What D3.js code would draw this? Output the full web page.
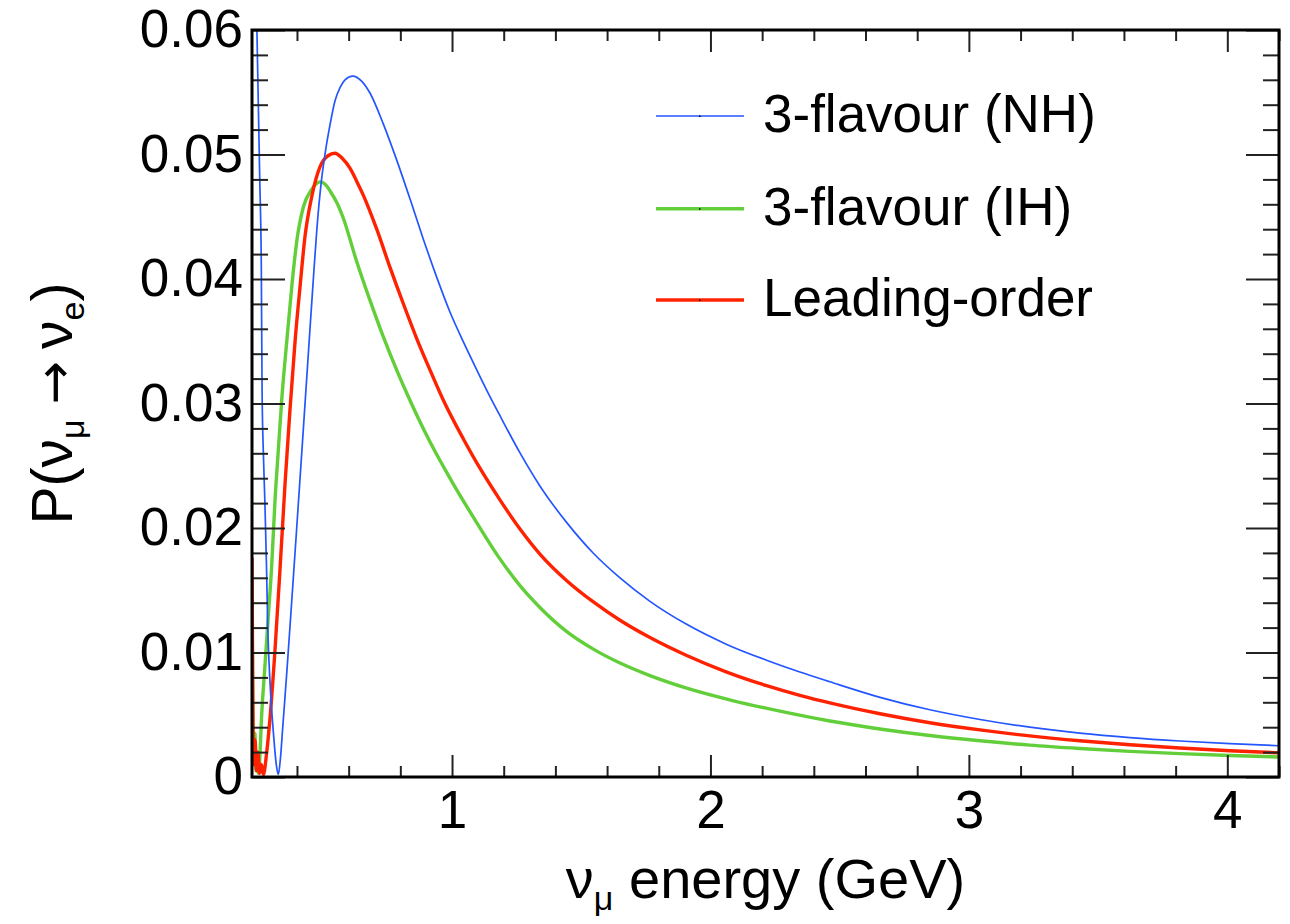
<!DOCTYPE html>
<html>
<head>
<meta charset="utf-8">
<script src="https://cdn.jsdelivr.net/npm/d3@7"></script>
<style>
  html, body { margin: 0; padding: 0; background: #fff; }
  svg { display: block; font-family: "Liberation Sans", Arial, sans-serif; }
</style>
</head>
<body>
<svg id="chart" width="1290" height="924"></svg>
<script>
// values (energy in GeV, probability)
const nhEnergy = [0.226, 0.236, 0.245, 0.250, 0.256, 0.262, 0.265, 0.270, 0.276, 0.282, 0.287, 0.296, 0.309, 0.320, 0.328, 0.336, 0.345, 0.361, 0.380, 0.399, 0.421, 0.444, 0.465, 0.477, 0.493, 0.509, 0.528, 0.547, 0.567, 0.586, 0.616, 0.650, 0.683, 0.734, 0.786, 0.838, 0.889, 0.941, 0.992, 1.044, 1.096, 1.134, 1.186, 1.263, 1.340, 1.444, 1.547, 1.650, 1.766, 1.908, 2.063, 2.217, 2.346, 2.462, 2.656, 2.849, 3.043, 3.236, 3.429, 3.623, 3.816, 4.010, 4.200];
const nhProb = [0.080, 0.068, 0.060, 0.0545, 0.048, 0.041, 0.031, 0.026, 0.022, 0.017, 0.012, 0.0075, 0.0035, 0.0010, 0.0002, 0.0015, 0.0040, 0.0085, 0.0142, 0.0200, 0.0268, 0.0340, 0.0405, 0.0440, 0.0476, 0.0501, 0.0524, 0.0543, 0.0554, 0.0560, 0.0563, 0.0559, 0.05492, 0.05246, 0.04955, 0.04640, 0.04320, 0.04013, 0.03735, 0.03495, 0.03269, 0.03108, 0.02900, 0.02603, 0.02338, 0.02043, 0.01797, 0.01599, 0.01411, 0.01226, 0.01065, 0.00938, 0.00843, 0.00765, 0.00640, 0.00540, 0.00462, 0.00400, 0.00352, 0.00316, 0.00289, 0.00268, 0.00251];

const ihEnergy = [0.226, 0.229, 0.233, 0.237, 0.242, 0.246, 0.250, 0.256, 0.263, 0.276, 0.289, 0.302, 0.315, 0.328, 0.341, 0.361, 0.380, 0.399, 0.425, 0.457, 0.489, 0.510, 0.530, 0.555, 0.579, 0.631, 0.683, 0.734, 0.786, 0.831, 0.915, 1.004, 1.093, 1.186, 1.263, 1.340, 1.444, 1.547, 1.650, 1.766, 1.908, 2.089, 2.269, 2.462, 2.656, 2.849, 3.043, 3.236, 3.429, 3.623, 3.816, 4.010, 4.200];
const ihProb = [0.0142, 0.0060, 0.0020, 0.0035, 0.0005, 0.0012, 0.0003, 0.0015, 0.0048, 0.0089, 0.0129, 0.0169, 0.0222, 0.0263, 0.0303, 0.0351, 0.0394, 0.0430, 0.0458, 0.0472, 0.0478, 0.0476, 0.0470, 0.0461, 0.0449, 0.04141, 0.03826, 0.03537, 0.03268, 0.03054, 0.02690, 0.02357, 0.02052, 0.01750, 0.01537, 0.01362, 0.01168, 0.01027, 0.00915, 0.00814, 0.00713, 0.00612, 0.00529, 0.00450, 0.00386, 0.00333, 0.00291, 0.00256, 0.00229, 0.00206, 0.00188, 0.00173, 0.00161];

const loEnergy = [0.226, 0.229, 0.233, 0.238, 0.243, 0.249, 0.255, 0.262, 0.270, 0.283, 0.296, 0.315, 0.335, 0.354, 0.373, 0.393, 0.412, 0.431, 0.457, 0.489, 0.520, 0.547, 0.575, 0.605, 0.630, 0.657, 0.709, 0.760, 0.812, 0.863, 0.915, 0.966, 1.044, 1.108, 1.186, 1.263, 1.340, 1.444, 1.547, 1.650, 1.766, 1.908, 2.063, 2.217, 2.346, 2.462, 2.656, 2.849, 3.043, 3.236, 3.429, 3.623, 3.816, 4.010, 4.200];
const loProb = [0.0176, 0.0060, 0.0010, 0.0030, 0.0005, 0.0020, 0.0003, 0.0010, 0.0002, 0.0020, 0.0048, 0.0102, 0.0169, 0.0236, 0.0295, 0.0351, 0.0394, 0.0434, 0.0466, 0.0490, 0.0499, 0.0501, 0.0497, 0.0489, 0.0479, 0.04672, 0.04398, 0.04093, 0.03799, 0.03524, 0.03268, 0.03028, 0.02715, 0.02480, 0.02224, 0.01992, 0.01791, 0.01577, 0.01406, 0.01259, 0.01120, 0.00976, 0.00843, 0.00734, 0.00656, 0.00595, 0.00508, 0.00436, 0.00378, 0.00330, 0.00291, 0.00259, 0.00233, 0.00211, 0.00194];

const seriesNames = ['3-flavour (NH)', '3-flavour (IH)', 'Leading-order'];
const xMajorTicks = [1, 2, 3, 4];
const yMajorTicks = [0, 0.01, 0.02, 0.03, 0.04, 0.05, 0.06];

const svg = d3.select('#chart');
const W = 1290, H = 924;
const frameL = 252, frameR = 1279, frameT = 30, frameB = 777;

const x = d3.scaleLinear().domain([0.226, 4.2]).range([frameL, frameR]);
const y = d3.scaleLinear().domain([0, 0.06]).range([frameB, frameT]);

svg.append('rect').attr('width', W).attr('height', H).attr('fill', '#fff');

const series = [
  { name: seriesNames[0], e: nhEnergy, p: nhProb, color: '#2456ff', width: 1.7 },
  { name: seriesNames[1], e: ihEnergy, p: ihProb, color: '#62cf3a', width: 3.4 },
  { name: seriesNames[2], e: loEnergy, p: loProb, color: '#ff2200', width: 3.4 }
];

svg.append('defs').append('clipPath').attr('id', 'frame-clip')
  .append('rect')
    .attr('x', frameL).attr('y', frameT)
    .attr('width', frameR - frameL).attr('height', frameB - frameT);

const line = d3.line()
    .x(d => x(d[0]))
    .y(d => y(d[1]))
    .curve(d3.curveMonotoneX);

const plot = svg.append('g').attr('clip-path', 'url(#frame-clip)');
// draw NH last so the thin blue line sits on top like the original
[series[1], series[2], series[0]].forEach(s => {
  plot.append('path')
      .datum(s.e.map((e, i) => [e, s.p[i]]))
      .attr('d', line)
      .attr('fill', 'none')
      .attr('stroke', s.color)
      .attr('stroke-width', s.width)
      .attr('stroke-linejoin', 'round');
});

// minor ticks
const xMinor = d3.range(0.4, 4.21, 0.2).filter(v => Math.abs(v - Math.round(v)) > 1e-6);
const yMinor = d3.range(0.002, 0.0601, 0.002).filter(v => Math.abs(v * 100 - Math.round(v * 100)) > 1e-6);

function styleAxis(g) {
  g.select('.domain').remove();
  g.selectAll('.tick line').attr('stroke', '#222').attr('stroke-width', 2);
  g.selectAll('.tick text').attr('fill', '#000').attr('font-size', 53)
      .attr('font-family', '"Liberation Sans", Arial, sans-serif');
}

// bottom axis
svg.append('g').attr('transform', `translate(0,${frameB})`)
    .call(d3.axisBottom(x).tickValues(xMajorTicks).tickFormat(d3.format('d')).tickSize(-22).tickPadding(13))
    .call(styleAxis);
svg.append('g').attr('transform', `translate(0,${frameB})`)
    .call(d3.axisBottom(x).tickValues(xMinor).tickFormat('').tickSize(-11))
    .call(styleAxis);
// top axis (ticks only)
svg.append('g').attr('transform', `translate(0,${frameT})`)
    .call(d3.axisTop(x).tickValues(xMajorTicks).tickFormat('').tickSize(-22))
    .call(styleAxis);
svg.append('g').attr('transform', `translate(0,${frameT})`)
    .call(d3.axisTop(x).tickValues(xMinor).tickFormat('').tickSize(-11))
    .call(styleAxis);

// left axis
svg.append('g').attr('transform', `translate(${frameL},0)`)
    .call(d3.axisLeft(y).tickValues(yMajorTicks)
      .tickFormat(d => d === 0 ? '0' : d3.format('.2f')(d))
      .tickSize(-33).tickPadding(9))
    .call(styleAxis);
svg.append('g').attr('transform', `translate(${frameL},0)`)
    .call(d3.axisLeft(y).tickValues(yMinor).tickFormat('').tickSize(-16))
    .call(styleAxis);
// right axis (ticks only)
svg.append('g').attr('transform', `translate(${frameR},0)`)
    .call(d3.axisRight(y).tickValues(yMajorTicks).tickFormat('').tickSize(-33))
    .call(styleAxis);
svg.append('g').attr('transform', `translate(${frameR},0)`)
    .call(d3.axisRight(y).tickValues(yMinor).tickFormat('').tickSize(-16))
    .call(styleAxis);

// frame
svg.append('rect')
    .attr('x', frameL).attr('y', frameT)
    .attr('width', frameR - frameL).attr('height', frameB - frameT)
    .attr('fill', 'none').attr('stroke', '#000').attr('stroke-width', 3);

// x title
const xt = svg.append('text')
    .attr('x', (frameL + frameR) / 2).attr('y', 898)
    .attr('text-anchor', 'middle')
    .attr('font-size', 56).attr('fill', '#000');
xt.append('tspan').text('ν');
xt.append('tspan').attr('font-size', 34).attr('dy', 12).text('μ');
xt.append('tspan').attr('dy', -12).text(' energy (GeV)');

// y title
const yt = svg.append('text')
    .attr('transform', `translate(72,${(frameT + frameB) / 2}) rotate(-90)`)
    .attr('text-anchor', 'middle')
    .attr('font-size', 57).attr('fill', '#000');
yt.append('tspan').text('P(ν');
yt.append('tspan').attr('font-size', 34).attr('dy', 12).text('μ');
yt.append('tspan').attr('dy', -12).attr('dx', 15)
    .attr('font-family', '"DejaVu Sans", sans-serif').attr('font-size', 52).text('→');
yt.append('tspan').attr('dx', 12).text('ν');
yt.append('tspan').attr('font-size', 34).attr('dy', 12).text('e');
yt.append('tspan').attr('dy', -12).text(')');

// legend
const legendY = [116, 208.7, 300];
series.forEach((s, i) => {
  const ly = legendY[i];
  svg.append('line')
      .attr('x1', 656).attr('x2', 744).attr('y1', ly).attr('y2', ly)
      .attr('stroke', s.color).attr('stroke-width', s.width);
  svg.append('rect')
      .attr('x', 699).attr('y', ly - 0.5).attr('width', 1.5).attr('height', 1.5)
      .attr('fill', '#000');
  svg.append('text')
      .attr('x', 763).attr('y', ly + 16)
      .attr('font-size', 53).attr('fill', '#000')
      .text(s.name);
});
</script>
</body>
</html>
